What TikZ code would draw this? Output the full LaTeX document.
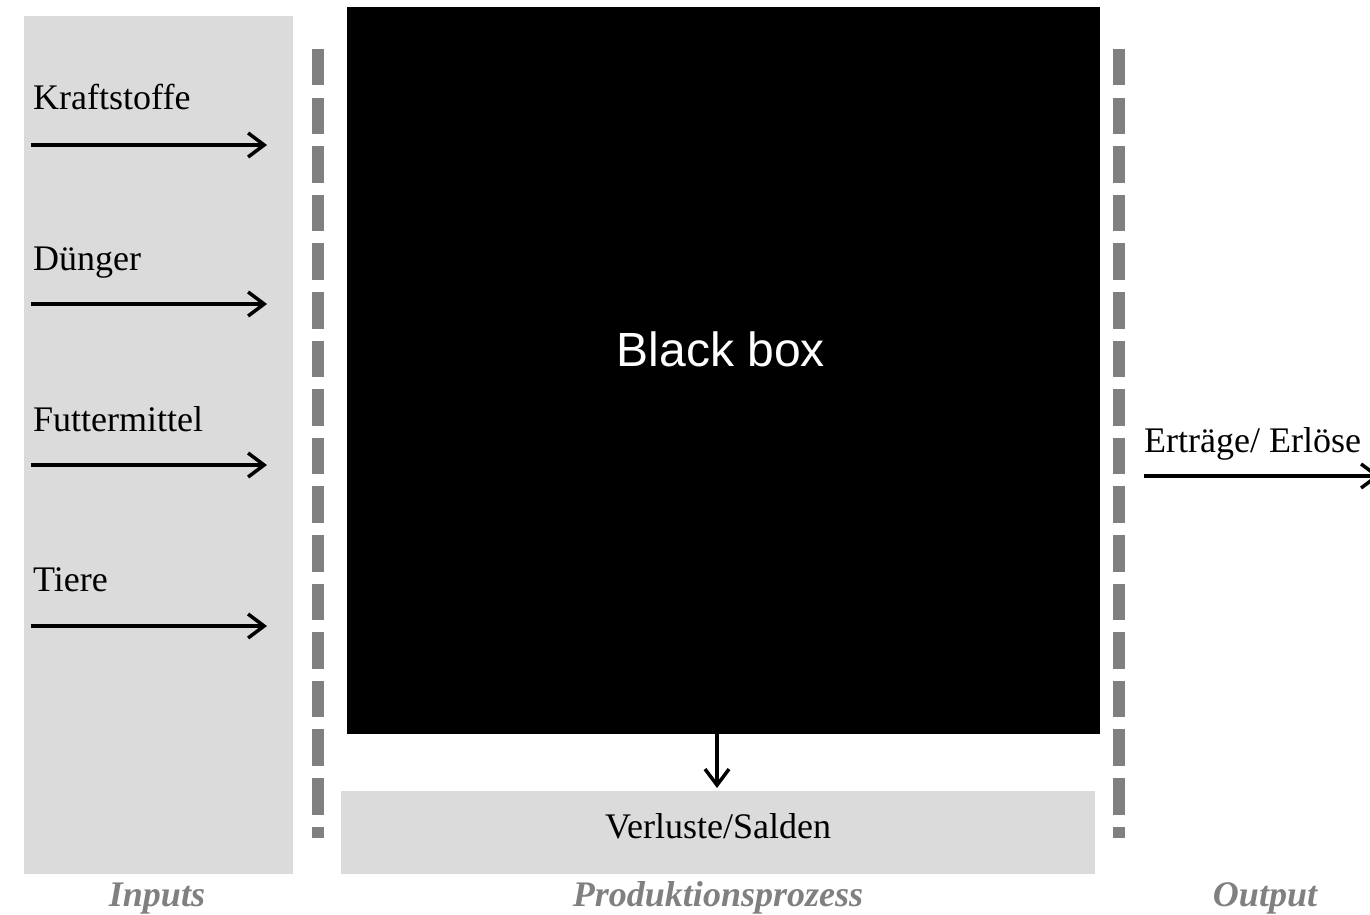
\documentclass[tikz,border=0pt]{standalone}
\usepackage{fontspec}
\setmainfont{Liberation Serif}
\newfontfamily\boxfont{Liberation Sans}
\usetikzlibrary{arrows.meta}
\definecolor{hatch}{gray}{0.86}
\definecolor{dashgray}{gray}{0.5}
\tikzset{
  panel/.style={fill=hatch, draw=none},
  sep/.style={draw=dashgray, line width=12pt, dash pattern=on 36.5pt off 12.1pt},
  flow/.style={line width=3.5pt, -{Straight Barb[length=16pt, width=24pt, line width=3.5pt]}},
  lbl/.style={font=\fontsize{36}{40}\selectfont, inner sep=0pt},
  title/.style={font=\fontsize{36}{40}\selectfont\bfseries\itshape, text=dashgray, inner sep=0pt},
}
\begin{document}
\begin{tikzpicture}[x=1pt, y=-1pt]
\useasboundingbox (0,0) rectangle (1370,915);
% panels
\fill[panel] (24,16) rectangle (293,874);
\fill[panel] (341,791) rectangle (1095,874);
% black box
\node[fill=black, minimum width=753pt, minimum height=727pt, inner sep=0pt, anchor=north west] (bb) at (347,7) {};
\node[font=\boxfont\fontsize{48}{52}\selectfont, text=white, inner sep=0pt, anchor=base] (bbt) at (721,366) {Black box};
% separators
\coordinate (s1a) at (318,49);
\coordinate (s1b) at (318,838);
\coordinate (s2a) at (1119,49);
\coordinate (s2b) at (1119,838);
\draw[sep] (s1a) -- (s1b);
\draw[sep] (s2a) -- (s2b);
% inputs
\node[lbl, anchor=base west] (l1) at (33,110) {Kraftstoffe};
\node[lbl, anchor=base west] (l2) at (33,270) {Dünger};
\node[lbl, anchor=base west] (l3) at (33,431) {Futtermittel};
\node[lbl, anchor=base west] (l4) at (33,591) {Tiere};
\foreach \i/\y in {1/145,2/304,3/465,4/626}{
  \coordinate (a\i) at (31,\y);
  \coordinate (b\i) at (267,\y);
  \draw[flow] (a\i) -- (b\i);
}
% output
\node[lbl, anchor=base west] (out) at (1144,452) {Erträge/ Erlöse};
\coordinate (o1) at (1144,476);
\coordinate (o2) at (1380,476);
\draw[flow] (o1) -- (o2);
% losses
\coordinate (v1) at (717,734);
\coordinate (v2) at (717,788);
\draw[flow] (v1) -- (v2);
\node[lbl, anchor=base] (ver) at (718,838) {Verluste/Salden};
% titles
\node[title, anchor=base] (t1) at (157,906) {Inputs};
\node[title, anchor=base] (t2) at (718,906) {Produktionsprozess};
\node[title, anchor=base] (t3) at (1265,906) {Output};
\end{tikzpicture}
\end{document}
